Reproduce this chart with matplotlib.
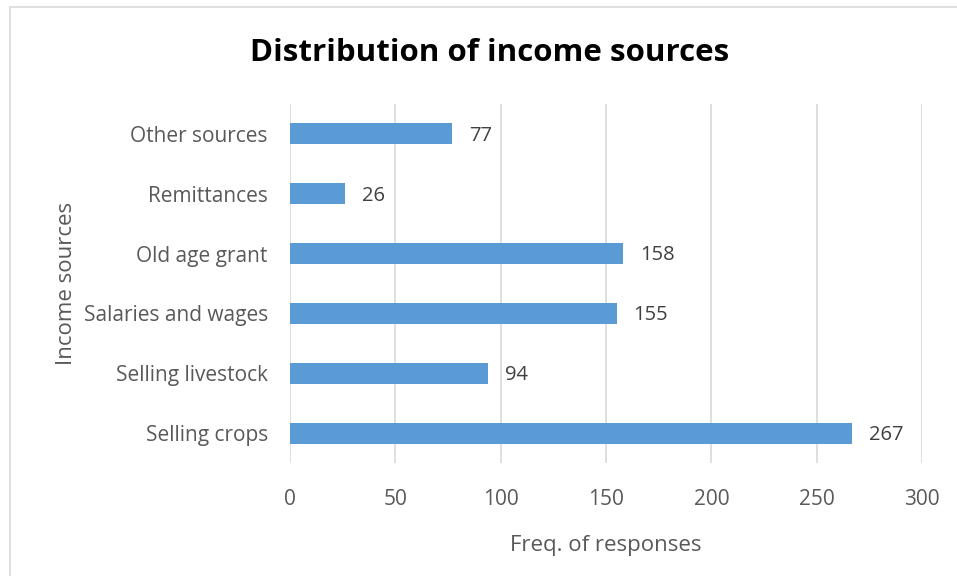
import matplotlib.pyplot as plt
from matplotlib.patches import Rectangle

# income source frequencies
sources = ["Selling crops", "Selling livestock", "Salaries and wages",
           "Old age grant", "Remittances", "Other sources"]
freq = [267, 94, 155, 158, 26, 77]
xticks = [0, 50, 100, 150, 200, 250, 300]

plt.rcParams['font.family'] = ['Open Sans', 'DejaVu Sans']

fig = plt.figure(figsize=(9.57, 5.76), dpi=100)
# outer chart border (cut off at right and bottom)
fig.patches.append(Rectangle((10 / 957, -0.1), 1.1, 1 - 7 / 576 + 0.1,
                             transform=fig.transFigure, fill=False,
                             edgecolor='#d9d9d9', linewidth=1.2))

ax = fig.add_axes([290 / 957, 1 - 463 / 576, 632 / 957, 359 / 576])
ypos = range(len(sources))
ax.barh(ypos, freq, height=0.35, color='#5b9bd5', zorder=3)
for y, v in zip(ypos, freq):
    ax.text(v + 8, y - 0.03, str(v), va='center', ha='left', fontsize=14.5, color='#404040')

ax.set_xlim(0, 300)
ax.set_ylim(-0.5, len(sources) - 0.5)
ax.set_xticks(xticks)
ax.set_yticks(list(ypos))
ax.set_yticklabels(sources)
ax.tick_params(axis='both', length=0, labelsize=15, labelcolor='#595959')
ax.tick_params(axis='x', pad=19)
ax.tick_params(axis='y', pad=16)
ax.grid(axis='x', color='#d9d9d9', linewidth=1.2, zorder=0)
for s in ax.spines.values():
    s.set_visible(False)

ax.set_xlabel("Freq. of responses", fontsize=16, color='#595959', labelpad=18)
ax.set_ylabel("Income sources", fontsize=16, color='#595959', labelpad=5)
fig.text(490 / 957, 1 - 53 / 576, "Distribution of income sources",
         ha='center', va='center', fontsize=22.5, fontweight='bold', color='black')

fig.savefig("out.png", dpi=100)
